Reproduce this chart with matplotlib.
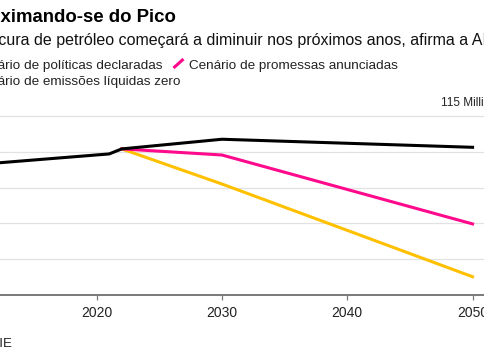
import matplotlib
matplotlib.use("Agg")
import matplotlib.pyplot as plt
from matplotlib.lines import Line2D

plt.rcParams['font.family'] = ['Liberation Sans', 'DejaVu Sans']

# data (million barrels per day)
hist_years = [2010, 2021, 2022]
hist_vals = [87.6, 93.8, 96.6]
scen_years = [2022, 2030, 2050]
steps_vals = [96.6, 102.0, 97.5]   # políticas declaradas
aps_vals = [96.6, 93.2, 54.7]      # promessas anunciadas
nze_vals = [96.6, 77.0, 25.2]      # emissões líquidas zero

x_ticks = [2020, 2030, 2040, 2050]
y_ticks = [15, 35, 55, 75, 95, 115]
y_unit = "Million barrels per day"

legend_labels = ["Cenário de políticas declaradas",
                 "Cenário de promessas anunciadas",
                 "Cenário de emissões líquidas zero"]
c_black = "#000000"
c_pink = "#ff0a8c"
c_yellow = "#ffc000"
legend_colors = [c_black, c_pink, c_yellow]

W, H = 485, 360
fig = plt.figure(figsize=(W / 100, H / 100), dpi=100)

def fx(px):
    return px / W

def fy(py):
    return 1 - py / H

# axes spans wider than the picture, as in the cropped original
left_px, right_px = -53.7, 578.0
ax = fig.add_axes([fx(left_px), fy(295), fx(right_px - left_px), (295 - 110.6) / H])
ax.set_xlim(2008, 2008 + (right_px - left_px) / 12.53)
ax.set_ylim(15, 118)

ax.plot(scen_years, nze_vals, color=c_yellow, lw=2.2, solid_joinstyle='miter')
ax.plot(scen_years, aps_vals, color=c_pink, lw=2.2, solid_joinstyle='miter')
ax.plot(hist_years + scen_years[1:], hist_vals + steps_vals[1:], color=c_black, lw=2.2,
        solid_joinstyle='miter')

for s in ['top', 'left', 'right']:
    ax.spines[s].set_visible(False)
ax.spines['bottom'].set_color('#7a7a7a')
ax.spines['bottom'].set_linewidth(1.4)
ax.set_xticks(x_ticks)
ax.set_yticks(y_ticks)
ax.tick_params(axis='x', length=3.5, width=0.9, color='#7a7a7a', pad=4.5,
               labelsize=10, labelcolor='#222222')
ax.tick_params(axis='y', left=False, labelleft=False)
ax.grid(axis='y', color='#e2e2e2', lw=0.9)
ax.set_axisbelow(True)

# only the top y label reaches into the visible area (right aligned above gridline)
ax.annotate(f"{y_ticks[-1]} {y_unit}", xy=(1, y_ticks[-1]),
            xycoords=('axes fraction', 'data'), xytext=(0, 5), textcoords='offset points',
            ha='right', va='bottom', fontsize=8.5, color='#222222')

L = -43
fig.text(fx(-43.5), fy(22.5), "Aproximando-se do Pico", fontsize=13.4, fontweight='bold',
         va='baseline', ha='left', color='#000000')
fig.text(fx(-39), fy(44.5), "A procura de petróleo começará a diminuir nos próximos anos, afirma a AIE",
         fontsize=11.55, va='baseline', ha='left', color='#111111')
fig.text(fx(-50.5), fy(347), "Fonte: AIE", fontsize=9.5, va='baseline', ha='left',
         color='#222222')

# legend laid out as flowing text with slash markers
fig.canvas.draw()
renderer = fig.canvas.get_renderer()

def legend_item(x, base, label, color):
    fig.add_artist(Line2D([fx(x), fx(x + 10)], [fy(base - 0.5), fy(base - 9.5)],
                          transform=fig.transFigure, color=color, lw=2.2,
                          solid_capstyle='butt'))
    t = fig.text(fx(x + 16), fy(base), label, fontsize=9.7, va='baseline', ha='left',
                 color='#222222')
    bb = t.get_window_extent(renderer)
    return bb.x1

end1 = legend_item(L, 68.5, legend_labels[0], legend_colors[0])
legend_item(end1 + 11, 68.5, legend_labels[1], legend_colors[1])
legend_item(L, 84.5, legend_labels[2], legend_colors[2])

fig.savefig("out.png", dpi=100)
